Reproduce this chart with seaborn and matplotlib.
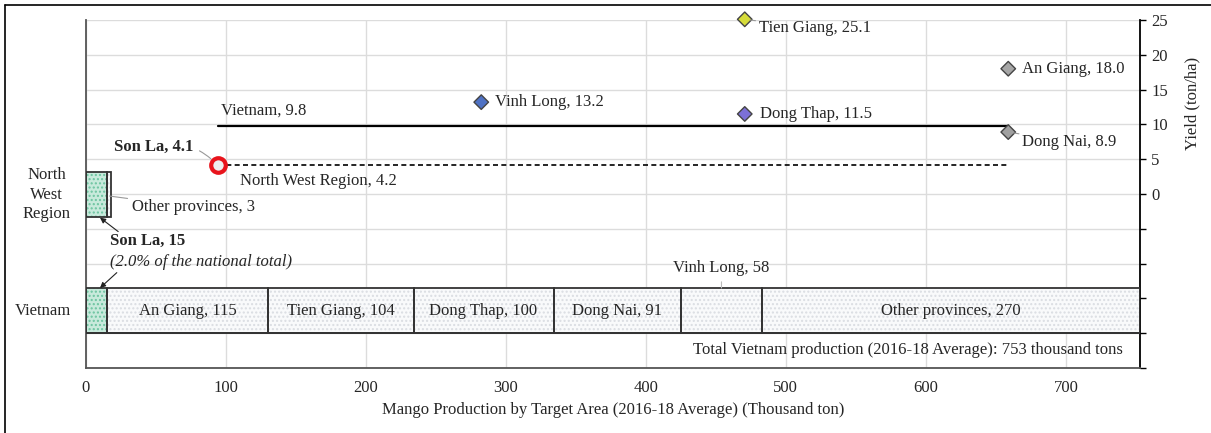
import numpy as np
import matplotlib.pyplot as plt
from matplotlib.lines import Line2D
import seaborn as sns
import pandas as pd

# production by area (thousand ton, 2016-18 average)
vn_names = ['Son La', 'An Giang', 'Tien Giang', 'Dong Thap', 'Dong Nai', 'Vinh Long', 'Other provinces']
vn_prod = [15, 115, 104, 100, 91, 58, 270]
nw_names = ['Son La', 'Other provinces']
nw_prod = [15, 3]
total_prod = 753

# yield (ton/ha)
yield_names = ['Vinh Long', 'Tien Giang', 'Dong Thap', 'An Giang', 'Dong Nai']
yield_vals = [13.2, 25.1, 11.5, 18.0, 8.9]
yield_slot = [1, 2, 2, 3, 3]
sonla_yield = 4.1
vn_yield = 9.8
nw_yield = 4.2

marker_colors = {'Vinh Long': '#4f72c4', 'Tien Giang': '#d6dc3a', 'Dong Thap': '#7c70d6',
                 'An Giang': '#a6a6a6', 'Dong Nai': '#a0a0a0'}

sns.set_theme(style="white")
plt.rcParams['font.family'] = ['Liberation Serif', 'DejaVu Serif']
FS = 12

fig = plt.figure(figsize=(12.11, 4.33), dpi=100)
ax = fig.add_axes([86 / 1211, 1 - 368 / 433, (1140 - 86) / 1211, (368 - 20) / 433])


def slot_x(s):
    return (2 * s + 1) * total_prod / 8


# ---- stacked bars ----
def stacked(names, vals, yc, h=6.5):
    lefts = np.concatenate([[0], np.cumsum(vals)[:-1]])
    for n, v, l in zip(names, vals, lefts):
        if n == 'Son La':
            fc, dots = '#c8eadc', '#6cc4a0'
        else:
            fc, dots = '#f9fafb', '#dadde2'
        ax.barh(yc, v, left=l, height=h, color=fc, edgecolor=dots, hatch='....', linewidth=0, zorder=2)
        ax.barh(yc, v, left=l, height=h, color='none', edgecolor='#333333', linewidth=1.3, zorder=3)
    return lefts


nw_y, vn_y = -0.1, -16.75
stacked(nw_names, nw_prod, nw_y)
vn_left = stacked(vn_names, vn_prod, vn_y)

for n, v, l in zip(vn_names, vn_prod, vn_left):
    if n in ('Son La', 'Vinh Long'):
        continue
    ax.text(l + v / 2, vn_y, f'{n}, {v}', ha='center', va='center', fontsize=FS, zorder=4)
vl = vn_names.index('Vinh Long')
ax.annotate(f'Vinh Long, {vn_prod[vl]}', xy=(vn_left[vl] + 29, vn_y + 3.25), xytext=(vn_left[vl] + 29, -10.6),
            ha='center', va='center', fontsize=FS,
            arrowprops=dict(arrowstyle='-', color='#bbbbbb', lw=0.8, shrinkA=2, shrinkB=0))

ax.plot([0, total_prod], [-20, -20], color='#333333', lw=1.3, zorder=3)
ax.text(741, -22.4, f'Total Vietnam production (2016-18 Average): {total_prod} thousand tons',
        ha='right', va='center', fontsize=FS)

# NW annotations
ax.annotate(f'Other provinces, {nw_prod[1]}', xy=(17, -0.3), xytext=(33, -1.9), ha='left', va='center',
            fontsize=FS, arrowprops=dict(arrowstyle='-', color='#999999', lw=0.8, shrinkA=1, shrinkB=0))
ax.text(17.5, -6.8, f'Son La, {nw_prod[0]}', fontweight='bold', ha='left', va='center', fontsize=FS)
ax.text(17.5, -9.8, f'({nw_prod[0] / total_prod * 100:.1f}% of the national total)', fontstyle='italic',
        ha='left', va='center', fontsize=FS)
ax.annotate('', xy=(10, -3.4), xytext=(23, -5.4),
            arrowprops=dict(arrowstyle='-|>', color='#222222', lw=0.8, mutation_scale=8, shrinkA=0, shrinkB=0))
ax.annotate('', xy=(10, -13.5), xytext=(22, -11.3),
            arrowprops=dict(arrowstyle='-|>', color='#222222', lw=0.8, mutation_scale=8, shrinkA=0, shrinkB=0))

# ---- yield reference lines ----
lines = pd.DataFrame({'x': [slot_x(0), slot_x(3)], 'vn': [vn_yield] * 2, 'nw': [nw_yield] * 2})
sns.lineplot(data=lines, x='x', y='vn', color='black', lw=1.6, ax=ax, zorder=4)
sns.lineplot(data=lines, x='x', y='nw', color='black', lw=1.2, ax=ax, zorder=4, linestyle=(0, (3, 2)))
ax.text(slot_x(0) + 2, vn_yield + 2.2, f'Vietnam, {vn_yield}', fontsize=FS, va='center')
ax.text(slot_x(0) + 16, nw_yield - 2.3, f'North West Region, {nw_yield}', fontsize=FS, va='center')

# ---- yield points ----
pts = pd.DataFrame({'name': yield_names, 'yield': yield_vals, 'x': [slot_x(s) for s in yield_slot]})
sns.scatterplot(data=pts, x='x', y='yield', hue='name', palette=marker_colors, marker='D', s=55,
                edgecolor='#444444', linewidth=1, legend=False, ax=ax, zorder=6, clip_on=False)
sns.scatterplot(x=[slot_x(0)], y=[sonla_yield], marker='o', s=110, color='#eeeeee', edgecolor='#e8141c',
                linewidth=3, legend=False, ax=ax, zorder=6)

offsets = {'Vinh Long': (14, 0), 'Tien Giang': (14, -9), 'Dong Thap': (15, 0),
           'An Giang': (14, 0), 'Dong Nai': (14, -10)}
for n, v, x in zip(pts['name'], pts['yield'], pts['x']):
    dx, dy = offsets[n]
    lead = dict(arrowstyle='-', color='#999999', lw=0.8, shrinkA=0, shrinkB=4) if dy else None
    ax.annotate(f'{n}, {v:.1f}', xy=(x, v), xytext=(dx, dy), textcoords='offset pixels',
                ha='left', va='center', fontsize=FS, arrowprops=lead, zorder=7, annotation_clip=False)
ax.annotate(f'Son La, {sonla_yield}', xy=(slot_x(0), sonla_yield), xytext=(-24, 19), textcoords='offset pixels',
            ha='right', va='center', fontsize=FS, fontweight='bold',
            arrowprops=dict(arrowstyle='-', color='#999999', lw=0.8, shrinkA=2, shrinkB=7,
                            connectionstyle='arc3,rad=-0.3'))

# ---- axes ----
ax.set_xlim(0, total_prod)
ax.set_ylim(-25, 25)
ax.set_xticks(np.arange(0, 701, 100))
ax.set_yticks(np.arange(-25, 26, 5))
ax.set_yticklabels([str(t) if t >= 0 else '' for t in range(-25, 26, 5)])
ax.yaxis.tick_right()
ax.yaxis.set_label_position('right')
ax.tick_params(axis='x', length=0, labelsize=FS, pad=9)
ax.tick_params(axis='y', length=4, width=1, color='black', labelsize=FS, pad=4, direction='out')
ax.set_xlabel('Mango Production by Target Area (2016-18 Average) (Thousand ton)', fontsize=FS, labelpad=4)
ax.set_ylabel('Yield (ton/ha)', fontsize=FS, labelpad=12)
ax.yaxis.label.set_y(0.76)
ax.grid(True, color='#dcdcdc', lw=1)
ax.set_axisbelow(True)
ax.spines['top'].set_visible(False)
ax.spines['right'].set_color('black')
ax.spines['left'].set_color('#555555')
ax.spines['bottom'].set_color('#555555')
for s in ax.spines.values():
    s.set_linewidth(1.3)

# category labels on the left
ax.text(-28, nw_y, 'North\nWest\nRegion', ha='center', va='center', fontsize=FS, linespacing=1.3, clip_on=False)
ax.text(-31, vn_y, 'Vietnam', ha='center', va='center', fontsize=FS, clip_on=False)

# figure frame
fig.add_artist(Line2D([5 / 1211, 1], [1 - 5 / 433] * 2, color='black', lw=1.2))
fig.add_artist(Line2D([5 / 1211] * 2, [0, 1 - 5 / 433], color='black', lw=1.2))

fig.savefig('out.png', dpi=100)
